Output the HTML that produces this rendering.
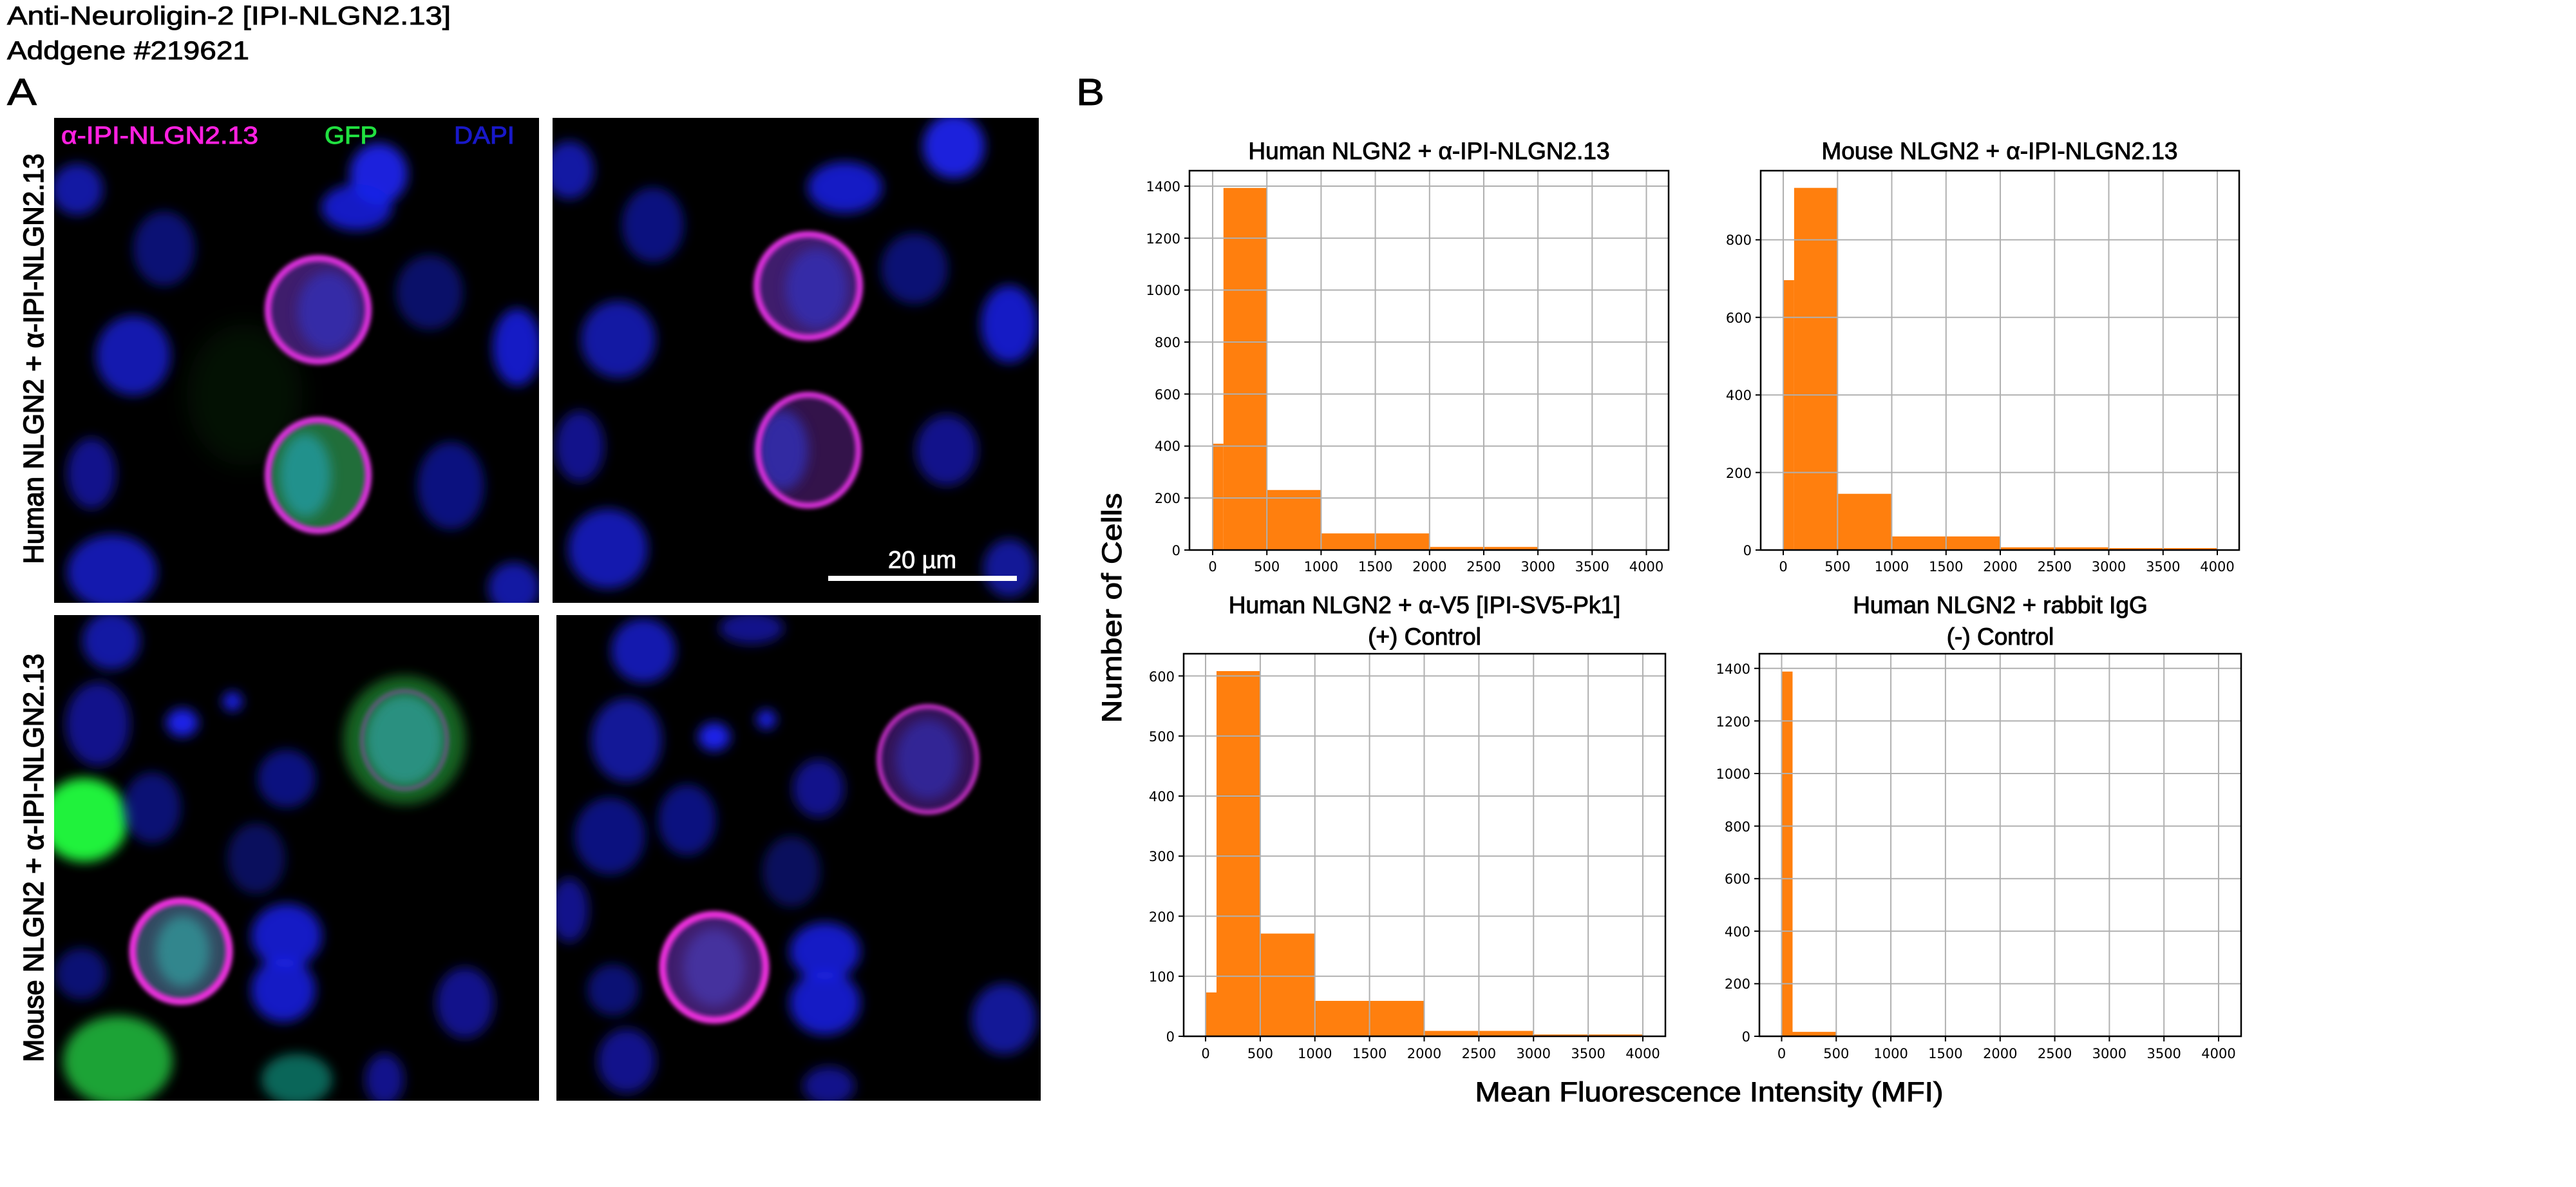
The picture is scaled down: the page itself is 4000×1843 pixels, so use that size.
<!DOCTYPE html>
<html><head><meta charset="utf-8"><style>
html,body{margin:0;padding:0;background:#fff}
svg{display:block}
</style></head><body>
<svg width="4000" height="1843" viewBox="0 0 4000 1843" xmlns="http://www.w3.org/2000/svg">
<defs>
<filter id="b" x="-50%" y="-50%" width="200%" height="200%"><feGaussianBlur stdDeviation="9"/></filter>
<filter id="s" x="-50%" y="-50%" width="200%" height="200%"><feGaussianBlur stdDeviation="3.5"/></filter>
<filter id="g" x="-50%" y="-50%" width="200%" height="200%"><feGaussianBlur stdDeviation="20"/></filter>
</defs>
<rect width="4000" height="1843" fill="#fff"/>

<!-- header -->
<g font-family="Liberation Sans, sans-serif" fill="#000" stroke="#000" stroke-width="0.9">
<text x="11" y="38" font-size="40" textLength="689" lengthAdjust="spacingAndGlyphs">Anti-Neuroligin-2 [IPI-NLGN2.13]</text>
<text x="11" y="92" font-size="40" textLength="376" lengthAdjust="spacingAndGlyphs">Addgene #219621</text>
<text x="11" y="163" font-size="58" textLength="46" lengthAdjust="spacingAndGlyphs">A</text>
<text x="1671" y="163" font-size="58" textLength="44" lengthAdjust="spacingAndGlyphs">B</text>
<text transform="translate(67,557) rotate(-90)" text-anchor="middle" font-size="44" stroke-width="1.6" textLength="637" lengthAdjust="spacingAndGlyphs">Human NLGN2 + α-IPI-NLGN2.13</text>
<text transform="translate(67,1332) rotate(-90)" text-anchor="middle" font-size="44" stroke-width="1.6" textLength="634" lengthAdjust="spacingAndGlyphs">Mouse NLGN2 + α-IPI-NLGN2.13</text>
</g>

<!-- Panel 1 -->
<svg x="84" y="183" width="753" height="753" viewBox="0 0 753 753">
<rect width="753" height="753" fill="#000"/>
<ellipse cx="296" cy="430" rx="90" ry="110" fill="#0a3a10" opacity=".3" filter="url(#g)"/>
<g fill="#1a22e8" filter="url(#b)">
<ellipse cx="504" cy="87" rx="45" ry="48" opacity=".95"/>
<ellipse cx="470" cy="139" rx="55" ry="36" opacity=".85"/>
<ellipse cx="171" cy="203" rx="48" ry="58" opacity=".5"/>
<ellipse cx="36" cy="111" rx="40" ry="40" opacity=".7"/>
<ellipse cx="583" cy="271" rx="52" ry="58" opacity=".45"/>
<ellipse cx="123" cy="369" rx="58" ry="62" opacity=".75"/>
<ellipse cx="719" cy="356" rx="38" ry="60" opacity=".85"/>
<ellipse cx="58" cy="552" rx="38" ry="55" opacity=".6"/>
<ellipse cx="616" cy="571" rx="52" ry="68" opacity=".55"/>
<ellipse cx="90" cy="705" rx="70" ry="58" opacity=".75"/>
<ellipse cx="714" cy="730" rx="40" ry="40" opacity=".7"/>
</g>
<ellipse cx="410" cy="298" rx="78" ry="80" fill="#5a2a9a" opacity=".7" filter="url(#s)"/>
<ellipse cx="426" cy="301" rx="48" ry="62" fill="#3030c0" opacity=".7" filter="url(#b)"/>
<ellipse cx="410" cy="298" rx="78" ry="80" fill="none" stroke="#e030e0" stroke-width="10" filter="url(#s)"/>
<ellipse cx="410" cy="555" rx="78" ry="86" fill="#2a8a4a" opacity=".8" filter="url(#s)"/>
<ellipse cx="390" cy="555" rx="40" ry="65" fill="#20a0b0" opacity=".7" filter="url(#b)"/>
<ellipse cx="410" cy="555" rx="78" ry="86" fill="none" stroke="#e030e0" stroke-width="10" filter="url(#s)"/>
<text x="11" y="40" font-family="Liberation Sans, sans-serif" font-size="38" fill="#ff20e0" stroke="#ff20e0" stroke-width="1" textLength="306" lengthAdjust="spacingAndGlyphs">α-IPI-NLGN2.13</text>
<text x="420" y="40" font-family="Liberation Sans, sans-serif" font-size="38" fill="#20e040" stroke="#20e040" stroke-width="1" textLength="82" lengthAdjust="spacingAndGlyphs">GFP</text>
<text x="621" y="40" font-family="Liberation Sans, sans-serif" font-size="38" fill="#1818c8" stroke="#1818c8" stroke-width="1" textLength="94" lengthAdjust="spacingAndGlyphs">DAPI</text>
</svg>

<!-- Panel 2 -->
<svg x="858" y="183" width="755" height="753" viewBox="0 0 755 753">
<rect width="755" height="753" fill="#000"/>
<g fill="#1a22e8" filter="url(#b)">
<ellipse cx="623" cy="44" rx="48" ry="50" opacity=".95"/>
<ellipse cx="454" cy="108" rx="58" ry="40" opacity=".85"/>
<ellipse cx="156" cy="166" rx="48" ry="58" opacity=".55"/>
<ellipse cx="26" cy="81" rx="38" ry="45" opacity=".7"/>
<ellipse cx="562" cy="234" rx="52" ry="55" opacity=".5"/>
<ellipse cx="709" cy="320" rx="44" ry="60" opacity=".85"/>
<ellipse cx="102" cy="344" rx="58" ry="60" opacity=".7"/>
<ellipse cx="42" cy="510" rx="38" ry="55" opacity=".6"/>
<ellipse cx="612" cy="516" rx="48" ry="55" opacity=".6"/>
<ellipse cx="86" cy="669" rx="62" ry="62" opacity=".75"/>
<ellipse cx="709" cy="699" rx="40" ry="45" opacity=".65"/>
</g>
<ellipse cx="397" cy="261" rx="80" ry="80" fill="#5a2a9a" opacity=".7" filter="url(#s)"/>
<ellipse cx="410" cy="265" rx="48" ry="62" fill="#3030c0" opacity=".7" filter="url(#b)"/>
<ellipse cx="397" cy="261" rx="80" ry="80" fill="none" stroke="#e030e0" stroke-width="10" filter="url(#s)"/>
<ellipse cx="397" cy="516" rx="78" ry="86" fill="#4a1a6a" opacity=".7" filter="url(#s)"/>
<ellipse cx="357" cy="516" rx="40" ry="62" fill="#3030c0" opacity=".75" filter="url(#b)"/>
<ellipse cx="397" cy="516" rx="78" ry="86" fill="none" stroke="#e030e0" stroke-width="9" filter="url(#s)"/>
<rect x="428" y="711" width="293" height="8" fill="#fff"/>
<text x="574" y="699" text-anchor="middle" font-family="Liberation Sans, sans-serif" font-size="38" fill="#fff" stroke="#fff" stroke-width="0.8">20 µm</text>
</svg>

<!-- Panel 3 -->
<svg x="84" y="955" width="753" height="754" viewBox="0 0 753 754">
<rect width="753" height="754" fill="#000"/>
<ellipse cx="544" cy="194" rx="95" ry="100" fill="#1a7a2a" opacity=".8" filter="url(#b)"/>
<ellipse cx="47" cy="318" rx="68" ry="65" fill="#20ff40" opacity=".95" filter="url(#b)"/>
<ellipse cx="99" cy="692" rx="85" ry="70" fill="#20c040" opacity=".85" filter="url(#b)"/>
<ellipse cx="377" cy="721" rx="55" ry="40" fill="#108070" opacity=".8" filter="url(#b)"/>
<g fill="#1a22e8" filter="url(#b)">
<ellipse cx="89" cy="40" rx="45" ry="45" opacity=".7"/>
<ellipse cx="68" cy="169" rx="50" ry="65" opacity=".6"/>
<ellipse cx="199" cy="167" rx="25" ry="22" opacity="1"/>
<ellipse cx="277" cy="134" rx="15" ry="15" opacity="1"/>
<ellipse cx="152" cy="299" rx="45" ry="55" opacity=".5"/>
<ellipse cx="361" cy="254" rx="45" ry="45" opacity=".55"/>
<ellipse cx="314" cy="378" rx="45" ry="55" opacity=".4"/>
<ellipse cx="361" cy="498" rx="55" ry="50" opacity=".85"/>
<ellipse cx="356" cy="582" rx="50" ry="50" opacity=".85"/>
<ellipse cx="42" cy="557" rx="40" ry="40" opacity=".5"/>
<ellipse cx="638" cy="602" rx="45" ry="55" opacity=".6"/>
<ellipse cx="513" cy="721" rx="30" ry="40" opacity=".6"/>
</g>
<ellipse cx="544" cy="194" rx="62" ry="72" fill="#30a0a0" opacity=".75" filter="url(#b)"/>
<ellipse cx="544" cy="194" rx="66" ry="76" fill="none" stroke="#b040c0" stroke-width="5" opacity=".6" filter="url(#s)"/>
<ellipse cx="197" cy="522" rx="75" ry="78" fill="#4a6a8a" opacity=".7" filter="url(#s)"/>
<ellipse cx="200" cy="522" rx="42" ry="55" fill="#30a0a0" opacity=".7" filter="url(#b)"/>
<ellipse cx="197" cy="522" rx="75" ry="78" fill="none" stroke="#f030e0" stroke-width="11" filter="url(#s)"/>
</svg>

<!-- Panel 4 -->
<svg x="864" y="955" width="752" height="754" viewBox="0 0 752 754">
<rect width="752" height="754" fill="#000"/>
<g fill="#1a22e8" filter="url(#b)">
<ellipse cx="135" cy="55" rx="50" ry="50" opacity=".75"/>
<ellipse cx="303" cy="20" rx="50" ry="25" opacity=".6"/>
<ellipse cx="109" cy="194" rx="55" ry="65" opacity=".65"/>
<ellipse cx="245" cy="189" rx="25" ry="22" opacity="1"/>
<ellipse cx="326" cy="162" rx="15" ry="15" opacity="1"/>
<ellipse cx="407" cy="269" rx="40" ry="45" opacity=".6"/>
<ellipse cx="83" cy="343" rx="55" ry="60" opacity=".55"/>
<ellipse cx="203" cy="318" rx="45" ry="55" opacity=".55"/>
<ellipse cx="365" cy="398" rx="45" ry="55" opacity=".4"/>
<ellipse cx="20" cy="458" rx="30" ry="50" opacity=".6"/>
<ellipse cx="417" cy="522" rx="55" ry="45" opacity=".85"/>
<ellipse cx="417" cy="602" rx="55" ry="50" opacity=".85"/>
<ellipse cx="88" cy="582" rx="40" ry="40" opacity=".5"/>
<ellipse cx="695" cy="627" rx="50" ry="55" opacity=".65"/>
<ellipse cx="109" cy="692" rx="45" ry="50" opacity=".6"/>
<ellipse cx="423" cy="731" rx="40" ry="30" opacity=".6"/>
</g>
<ellipse cx="577" cy="224" rx="76" ry="82" fill="#4a1a7a" opacity=".7" filter="url(#s)"/>
<ellipse cx="577" cy="224" rx="50" ry="62" fill="#3030c0" opacity=".6" filter="url(#b)"/>
<ellipse cx="577" cy="224" rx="76" ry="82" fill="none" stroke="#d030d0" stroke-width="7" filter="url(#s)"/>
<ellipse cx="245" cy="547" rx="80" ry="82" fill="#5a2a9a" opacity=".7" filter="url(#s)"/>
<ellipse cx="245" cy="547" rx="48" ry="60" fill="#4a40c0" opacity=".6" filter="url(#b)"/>
<ellipse cx="245" cy="547" rx="80" ry="82" fill="none" stroke="#f030e0" stroke-width="11" filter="url(#s)"/>
</svg>

<!-- ================= CHARTS ================= -->
<g font-family="DejaVu Sans, sans-serif" font-size="21" fill="#000">

<!-- TL -->
<g fill="#ff7f0e">
<rect x="1883" y="688.9" width="16.8" height="165.1"/>
<rect x="1899.8" y="291.8" width="67.4" height="562.2"/>
<rect x="1967.2" y="760.8" width="84.2" height="93.2"/>
<rect x="2051.4" y="828.2" width="168.4" height="25.8"/>
<rect x="2219.8" y="849.2" width="168.3" height="4.8"/>
<rect x="2388.1" y="853.4" width="168.4" height="0.6"/>
</g>
<g stroke="#b0b0b0" stroke-width="2">
<path d="M1883 265V854M1967.2 265V854M2051.4 265V854M2135.6 265V854M2219.8 265V854M2304 265V854M2388.1 265V854M2472.3 265V854M2556.5 265V854"/>
<path d="M1847 854H2591M1847 773.3H2591M1847 692.6H2591M1847 611.8H2591M1847 531.1H2591M1847 450.4H2591M1847 369.7H2591M1847 289H2591"/>
</g>
<rect x="1847" y="265" width="744" height="589" fill="none" stroke="#000" stroke-width="2.5"/>
<g stroke="#000" stroke-width="2">
<path d="M1883 854v8M1967.2 854v8M2051.4 854v8M2135.6 854v8M2219.8 854v8M2304 854v8M2388.1 854v8M2472.3 854v8M2556.5 854v8"/>
<path d="M1847 854h-8M1847 773.3h-8M1847 692.6h-8M1847 611.8h-8M1847 531.1h-8M1847 450.4h-8M1847 369.7h-8M1847 289h-8"/>
</g>
<g text-anchor="middle">
<text x="1883" y="887">0</text><text x="1967.2" y="887">500</text><text x="2051.4" y="887">1000</text><text x="2135.6" y="887">1500</text><text x="2219.8" y="887">2000</text><text x="2304" y="887">2500</text><text x="2388.1" y="887">3000</text><text x="2472.3" y="887">3500</text><text x="2556.5" y="887">4000</text>
</g>
<g text-anchor="end">
<text x="1833" y="862">0</text><text x="1833" y="781">200</text><text x="1833" y="700">400</text><text x="1833" y="620">600</text><text x="1833" y="539">800</text><text x="1833" y="458">1000</text><text x="1833" y="378">1200</text><text x="1833" y="297">1400</text>
</g>

<!-- TR -->
<g fill="#ff7f0e">
<rect x="2769" y="435" width="16.9" height="419"/>
<rect x="2785.9" y="291.7" width="67.4" height="562.3"/>
<rect x="2853.3" y="766.7" width="84.2" height="87.3"/>
<rect x="2937.5" y="832.9" width="168.5" height="21.1"/>
<rect x="3106" y="849.8" width="168.5" height="4.2"/>
<rect x="3274.5" y="851" width="168.5" height="3"/>
</g>
<g stroke="#b0b0b0" stroke-width="2">
<path d="M2769 265V854M2853.3 265V854M2937.5 265V854M3021.8 265V854M3106 265V854M3190.3 265V854M3274.5 265V854M3358.8 265V854M3443 265V854"/>
<path d="M2734 854H3477M2734 733.6H3477M2734 613.2H3477M2734 492.8H3477M2734 372.4H3477"/>
</g>
<rect x="2734" y="265" width="743" height="589" fill="none" stroke="#000" stroke-width="2.5"/>
<g stroke="#000" stroke-width="2">
<path d="M2769 854v8M2853.3 854v8M2937.5 854v8M3021.8 854v8M3106 854v8M3190.3 854v8M3274.5 854v8M3358.8 854v8M3443 854v8"/>
<path d="M2734 854h-8M2734 733.6h-8M2734 613.2h-8M2734 492.8h-8M2734 372.4h-8"/>
</g>
<g text-anchor="middle">
<text x="2769" y="887">0</text><text x="2853.3" y="887">500</text><text x="2937.5" y="887">1000</text><text x="3021.8" y="887">1500</text><text x="3106" y="887">2000</text><text x="3190.3" y="887">2500</text><text x="3274.5" y="887">3000</text><text x="3358.8" y="887">3500</text><text x="3443" y="887">4000</text>
</g>
<g text-anchor="end">
<text x="2720" y="862">0</text><text x="2720" y="742">200</text><text x="2720" y="621">400</text><text x="2720" y="501">600</text><text x="2720" y="380">800</text>
</g>

<!-- BL -->
<g fill="#ff7f0e">
<rect x="1872" y="1540.9" width="17" height="68.1"/>
<rect x="1889" y="1042" width="67.9" height="567"/>
<rect x="1956.9" y="1449.5" width="84.85" height="159.5"/>
<rect x="2041.75" y="1554" width="169.75" height="55"/>
<rect x="2211.5" y="1600.6" width="169.75" height="8.4"/>
<rect x="2381.25" y="1606.2" width="169.75" height="2.8"/>
</g>
<g stroke="#b0b0b0" stroke-width="2">
<path d="M1872 1015V1609M1956.9 1015V1609M2041.75 1015V1609M2126.6 1015V1609M2211.5 1015V1609M2296.4 1015V1609M2381.25 1015V1609M2466.1 1015V1609M2551 1015V1609"/>
<path d="M1838 1609H2586M1838 1515.75H2586M1838 1422.5H2586M1838 1329.25H2586M1838 1236H2586M1838 1142.75H2586M1838 1049.5H2586"/>
</g>
<rect x="1838" y="1015" width="748" height="594" fill="none" stroke="#000" stroke-width="2.5"/>
<g stroke="#000" stroke-width="2">
<path d="M1872 1609v8M1956.9 1609v8M2041.75 1609v8M2126.6 1609v8M2211.5 1609v8M2296.4 1609v8M2381.25 1609v8M2466.1 1609v8M2551 1609v8"/>
<path d="M1838 1609h-8M1838 1515.75h-8M1838 1422.5h-8M1838 1329.25h-8M1838 1236h-8M1838 1142.75h-8M1838 1049.5h-8"/>
</g>
<g text-anchor="middle">
<text x="1872" y="1643">0</text><text x="1956.9" y="1643">500</text><text x="2041.75" y="1643">1000</text><text x="2126.6" y="1643">1500</text><text x="2211.5" y="1643">2000</text><text x="2296.4" y="1643">2500</text><text x="2381.25" y="1643">3000</text><text x="2466.1" y="1643">3500</text><text x="2551" y="1643">4000</text>
</g>
<g text-anchor="end">
<text x="1824" y="1617">0</text><text x="1824" y="1524">100</text><text x="1824" y="1431">200</text><text x="1824" y="1337">300</text><text x="1824" y="1244">400</text><text x="1824" y="1151">500</text><text x="1824" y="1058">600</text>
</g>

<!-- BR -->
<g fill="#ff7f0e">
<rect x="2766.5" y="1042.7" width="17" height="566.3"/>
<rect x="2783.5" y="1602.1" width="67.8" height="6.9"/>
</g>
<g stroke="#b0b0b0" stroke-width="2">
<path d="M2766.5 1015V1609M2851.3 1015V1609M2936.1 1015V1609M3020.9 1015V1609M3105.8 1015V1609M3190.6 1015V1609M3275.4 1015V1609M3360.2 1015V1609M3445 1015V1609"/>
<path d="M2732 1609H3480M2732 1527.4H3480M2732 1445.8H3480M2732 1364.2H3480M2732 1282.6H3480M2732 1201H3480M2732 1119.4H3480M2732 1037.8H3480"/>
</g>
<rect x="2732" y="1015" width="748" height="594" fill="none" stroke="#000" stroke-width="2.5"/>
<g stroke="#000" stroke-width="2">
<path d="M2766.5 1609v8M2851.3 1609v8M2936.1 1609v8M3020.9 1609v8M3105.8 1609v8M3190.6 1609v8M3275.4 1609v8M3360.2 1609v8M3445 1609v8"/>
<path d="M2732 1609h-8M2732 1527.4h-8M2732 1445.8h-8M2732 1364.2h-8M2732 1282.6h-8M2732 1201h-8M2732 1119.4h-8M2732 1037.8h-8"/>
</g>
<g text-anchor="middle">
<text x="2766.5" y="1643">0</text><text x="2851.3" y="1643">500</text><text x="2936.1" y="1643">1000</text><text x="3020.9" y="1643">1500</text><text x="3105.8" y="1643">2000</text><text x="3190.6" y="1643">2500</text><text x="3275.4" y="1643">3000</text><text x="3360.2" y="1643">3500</text><text x="3445" y="1643">4000</text>
</g>
<g text-anchor="end">
<text x="2718" y="1617">0</text><text x="2718" y="1535">200</text><text x="2718" y="1454">400</text><text x="2718" y="1372">600</text><text x="2718" y="1291">800</text><text x="2718" y="1209">1000</text><text x="2718" y="1128">1200</text><text x="2718" y="1046">1400</text>
</g>
</g>

<!-- chart titles / labels -->
<g font-family="Liberation Sans, sans-serif" fill="#000" stroke="#000" stroke-width="1" text-anchor="middle" font-size="37">
<text x="2219" y="247">Human NLGN2 + α-IPI-NLGN2.13</text>
<text x="3105" y="247">Mouse NLGN2 + α-IPI-NLGN2.13</text>
<text x="2212" y="952">Human NLGN2 + α-V5 [IPI-SV5-Pk1]</text>
<text x="2212" y="1001">(+) Control</text>
<text x="3106" y="952">Human NLGN2 + rabbit IgG</text>
<text x="3106" y="1001">(-) Control</text>
<text transform="translate(1741,944) rotate(-90)" font-size="43" textLength="357" lengthAdjust="spacingAndGlyphs">Number of Cells</text>
<text x="2654" y="1710" font-size="43" textLength="727" lengthAdjust="spacingAndGlyphs">Mean Fluorescence Intensity (MFI)</text>
</g>
</svg>
</body></html>
